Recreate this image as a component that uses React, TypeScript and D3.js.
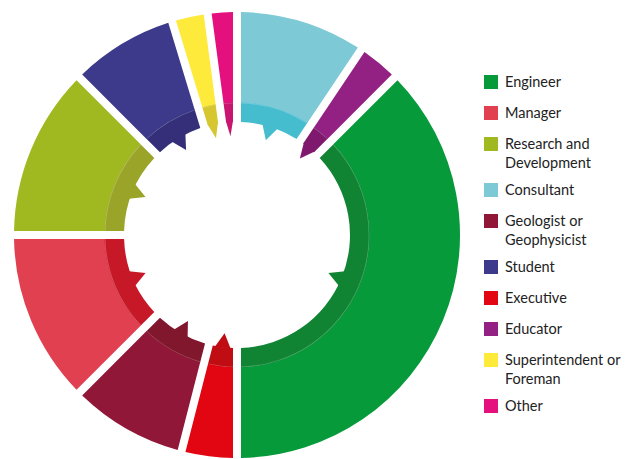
import React from 'react';
import * as d3 from 'd3';

// Legend order (largest share first)
const categories = [
    'Engineer',
    'Manager',
    'Research and Development',
    'Consultant',
    'Geologist or Geophysicist',
    'Student',
    'Executive',
    'Educator',
    'Superintendent or Foreman',
    'Other'
];

const legendLines = [
    ['Engineer'],
    ['Manager'],
    ['Research and', 'Development'],
    ['Consultant'],
    ['Geologist or', 'Geophysicist'],
    ['Student'],
    ['Executive'],
    ['Educator'],
    ['Superintendent or', 'Foreman'],
    ['Other']
];

// Share of respondents, percent
const shares = [37.5, 12.5, 12.5, 9.4, 8.5, 7.8, 4.0, 3.1, 2.6, 2.1];

// Clockwise order around the ring, starting at 12 o'clock
const ringOrder = [
    'Consultant',
    'Educator',
    'Engineer',
    'Executive',
    'Geologist or Geophysicist',
    'Manager',
    'Research and Development',
    'Student',
    'Superintendent or Foreman',
    'Other'
];

const outerColors = [
    '#079a3b', '#e0404f', '#a0b920', '#7dcad6', '#911739',
    '#3d3a8c', '#e20613', '#932183', '#fdea3a', '#e4107d'
];

const innerColors = [
    '#108432', '#c71828', '#9aa429', '#46bdcf', '#80172d',
    '#352f79', '#c00d13', '#7e196d', '#d6c731', '#c81570'
];

interface Slice {
    name: string;
    share: number;
    outer: string;
    inner: string;
}

const WIDTH = 640;
const HEIGHT = 459;
const CX = 237;
const CY = 235;
const R_OUTER = 223;
const R_BAND = 132;
const R_INNER = 113;
const R_TIP = 99;
const GAP = 8; // px between slices

const polar = (a: number, r: number): [number, number] => [r * Math.sin(a), -r * Math.cos(a)];

export default function App() {
    const slices: Slice[] = ringOrder.map(name => {
        const i = categories.indexOf(name);
        return { name, share: shares[i], outer: outerColors[i], inner: innerColors[i] };
    });

    const pie = d3.pie<Slice>().sort(null).value(d => d.share);
    const arcs = pie(slices);

    const outerArc = d3.arc<d3.PieArcDatum<Slice>>()
        .innerRadius(R_BAND)
        .outerRadius(R_OUTER)
        .padAngle(GAP / 100)
        .padRadius(100);

    const innerArc = d3.arc<d3.PieArcDatum<Slice>>()
        .innerRadius(R_INNER)
        .outerRadius(R_BAND + 0.5)
        .padAngle(GAP / 100)
        .padRadius(100);

    const seamArc = d3.arc<d3.PieArcDatum<Slice>>()
        .innerRadius(R_BAND - 0.3)
        .outerRadius(R_BAND + 0.3)
        .padAngle(GAP / 100)
        .padRadius(100);

    // small inward pointer at the middle of each slice's inner edge
    const pointer = (d: d3.PieArcDatum<Slice>) => {
        const mid = (d.startAngle + d.endAngle) / 2;
        const avail = ((d.endAngle - d.startAngle) * R_INNER - GAP) / 2;
        const hw = Math.min(8, avail);
        const rb = R_INNER + 1;
        const p1 = polar(mid - hw / rb, rb);
        const tip = polar(mid, R_TIP);
        const p2 = polar(mid + hw / rb, rb);
        return `M${p1[0]},${p1[1]}L${tip[0]},${tip[1]}L${p2[0]},${p2[1]}Z`;
    };

    // legend rows: fixed step plus extra room for wrapped labels
    let extra = 0;
    const legendRows = categories.map((name, i) => {
        const y = 75 + 31 * i + 15 * extra;
        extra += legendLines[i].length - 1;
        return { name, i, y };
    });

    return (
        <svg
            width={WIDTH}
            height={HEIGHT}
            style={{ position: 'absolute', left: 0, top: 0, background: '#ffffff' }}
        >
            <g transform={`translate(${CX},${CY})`}>
                {arcs.map(d => (
                    <g key={d.data.name}>
                        <path d={outerArc(d) || ''} fill={d.data.outer} />
                        <path d={innerArc(d) || ''} fill={d.data.inner} />
                        <path d={pointer(d)} fill={d.data.inner} />
                        <path d={seamArc(d) || ''} fill="#ffffff" opacity={0.3} />
                    </g>
                ))}
            </g>
            <g fontFamily="Lato, 'Open Sans', sans-serif" fontSize="14.5px" fill="#222222">
                {legendRows.map(row => (
                    <g key={row.name} transform={`translate(484,${row.y})`}>
                        <rect width={14} height={14} fill={outerColors[row.i]} />
                        {legendLines[row.i].map((line, j) => (
                            <text key={line} x={21} y={11.5 + j * 19.5}>{line}</text>
                        ))}
                    </g>
                ))}
            </g>
        </svg>
    );
}
